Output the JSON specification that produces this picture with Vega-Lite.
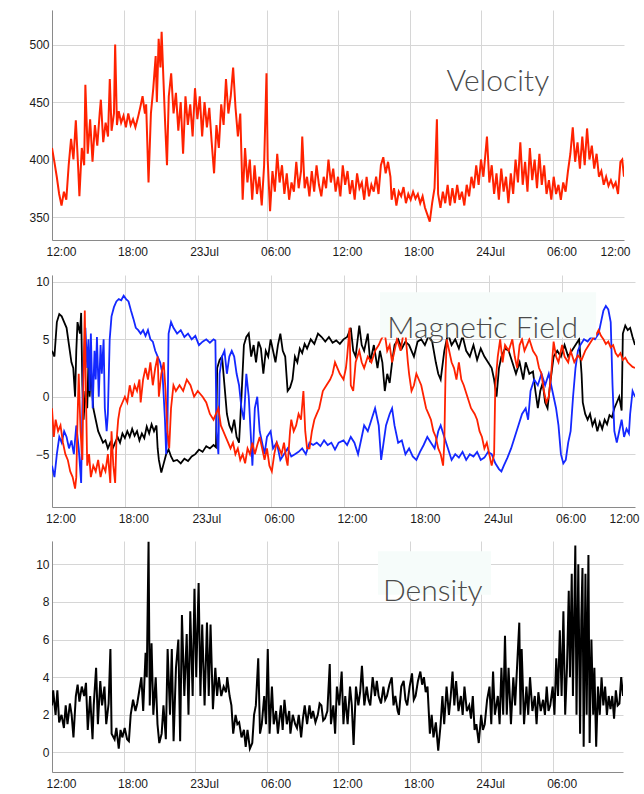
{
  "$schema": "https://vega.github.io/schema/vega-lite/v6.json",
  "background": "white",
  "padding": {"left": 0, "top": 10, "right": 0, "bottom": 0},
  "columns": 1,
  "spacing": 14,
  "datasets": {
    "vel": [{"h":0,"v":410},{"h":0.2,"v":398},{"h":0.4,"v":385},{"h":0.6,"v":370},{"h":0.8,"v":360},{"h":1,"v":372},{"h":1.2,"v":365},{"h":1.4,"v":395},{"h":1.6,"v":418},{"h":1.8,"v":400},{"h":2,"v":434},{"h":2.2,"v":392},{"h":2.3,"v":368},{"h":2.5,"v":410},{"h":2.7,"v":395},{"h":2.8,"v":465},{"h":3,"v":405},{"h":3.2,"v":435},{"h":3.4,"v":398},{"h":3.6,"v":430},{"h":3.8,"v":412},{"h":4,"v":440},{"h":4.1,"v":452},{"h":4.3,"v":415},{"h":4.5,"v":432},{"h":4.7,"v":420},{"h":4.85,"v":470},{"h":5,"v":425},{"h":5.2,"v":440},{"h":5.3,"v":500},{"h":5.45,"v":430},{"h":5.6,"v":442},{"h":5.8,"v":432},{"h":6,"v":438},{"h":6.2,"v":428},{"h":6.4,"v":440},{"h":6.6,"v":430},{"h":6.8,"v":435},{"h":7,"v":428},{"h":7.2,"v":436},{"h":7.4,"v":445},{"h":7.6,"v":455},{"h":7.8,"v":440},{"h":7.9,"v":448},{"h":8.1,"v":380},{"h":8.3,"v":440},{"h":8.5,"v":462},{"h":8.7,"v":490},{"h":8.8,"v":450},{"h":8.95,"v":505},{"h":9.1,"v":480},{"h":9.2,"v":511},{"h":9.35,"v":470},{"h":9.5,"v":430},{"h":9.65,"v":395},{"h":9.8,"v":455},{"h":10,"v":475},{"h":10.2,"v":440},{"h":10.4,"v":458},{"h":10.6,"v":425},{"h":10.8,"v":450},{"h":11,"v":405},{"h":11.2,"v":455},{"h":11.4,"v":430},{"h":11.6,"v":448},{"h":11.8,"v":420},{"h":12,"v":462},{"h":12.2,"v":435},{"h":12.4,"v":455},{"h":12.6,"v":420},{"h":12.8,"v":450},{"h":13,"v":428},{"h":13.2,"v":445},{"h":13.4,"v":415},{"h":13.6,"v":388},{"h":13.8,"v":430},{"h":14,"v":410},{"h":14.2,"v":448},{"h":14.4,"v":430},{"h":14.6,"v":470},{"h":14.8,"v":440},{"h":15,"v":455},{"h":15.2,"v":480},{"h":15.4,"v":445},{"h":15.6,"v":420},{"h":15.8,"v":440},{"h":16,"v":365},{"h":16.2,"v":410},{"h":16.4,"v":380},{"h":16.6,"v":400},{"h":16.8,"v":365},{"h":17,"v":395},{"h":17.2,"v":370},{"h":17.4,"v":385},{"h":17.6,"v":360},{"h":17.8,"v":395},{"h":18,"v":475},{"h":18.1,"v":400},{"h":18.3,"v":355},{"h":18.5,"v":390},{"h":18.7,"v":372},{"h":18.9,"v":405},{"h":19.1,"v":380},{"h":19.3,"v":395},{"h":19.5,"v":370},{"h":19.7,"v":388},{"h":19.9,"v":365},{"h":20.1,"v":380},{"h":20.3,"v":372},{"h":20.5,"v":398},{"h":20.7,"v":375},{"h":20.9,"v":390},{"h":21,"v":420},{"h":21.2,"v":375},{"h":21.4,"v":385},{"h":21.6,"v":368},{"h":21.8,"v":390},{"h":22,"v":372},{"h":22.2,"v":395},{"h":22.4,"v":378},{"h":22.6,"v":368},{"h":22.8,"v":385},{"h":23,"v":375},{"h":23.2,"v":400},{"h":23.4,"v":380},{"h":23.6,"v":392},{"h":23.8,"v":372},{"h":24,"v":385},{"h":24.2,"v":368},{"h":24.4,"v":395},{"h":24.6,"v":378},{"h":24.8,"v":390},{"h":25,"v":370},{"h":25.2,"v":382},{"h":25.4,"v":365},{"h":25.6,"v":388},{"h":25.8,"v":375},{"h":26,"v":380},{"h":26.2,"v":365},{"h":26.4,"v":385},{"h":26.6,"v":368},{"h":26.8,"v":378},{"h":27,"v":372},{"h":27.2,"v":385},{"h":27.4,"v":370},{"h":27.6,"v":395},{"h":27.8,"v":402},{"h":28,"v":388},{"h":28.2,"v":398},{"h":28.4,"v":385},{"h":28.5,"v":365},{"h":28.7,"v":375},{"h":28.9,"v":360},{"h":29.1,"v":372},{"h":29.3,"v":368},{"h":29.5,"v":376},{"h":29.7,"v":362},{"h":29.9,"v":370},{"h":30.1,"v":365},{"h":30.3,"v":372},{"h":30.5,"v":366},{"h":30.7,"v":370},{"h":30.9,"v":362},{"h":31.1,"v":368},{"h":31.3,"v":358},{"h":31.5,"v":352},{"h":31.7,"v":346},{"h":31.9,"v":362},{"h":32.1,"v":375},{"h":32.3,"v":435},{"h":32.4,"v":370},{"h":32.6,"v":358},{"h":32.8,"v":372},{"h":33,"v":362},{"h":33.2,"v":378},{"h":33.4,"v":360},{"h":33.6,"v":375},{"h":33.8,"v":362},{"h":34,"v":378},{"h":34.2,"v":365},{"h":34.4,"v":372},{"h":34.6,"v":360},{"h":34.8,"v":378},{"h":35,"v":368},{"h":35.2,"v":385},{"h":35.4,"v":375},{"h":35.6,"v":395},{"h":35.8,"v":378},{"h":36,"v":400},{"h":36.2,"v":385},{"h":36.5,"v":420},{"h":36.7,"v":380},{"h":36.9,"v":395},{"h":37.1,"v":370},{"h":37.3,"v":388},{"h":37.5,"v":365},{"h":37.7,"v":392},{"h":37.9,"v":372},{"h":38.1,"v":385},{"h":38.3,"v":362},{"h":38.5,"v":388},{"h":38.7,"v":370},{"h":38.9,"v":400},{"h":39.1,"v":380},{"h":39.3,"v":415},{"h":39.5,"v":378},{"h":39.7,"v":398},{"h":39.9,"v":372},{"h":40.1,"v":410},{"h":40.3,"v":382},{"h":40.5,"v":400},{"h":40.7,"v":375},{"h":40.9,"v":405},{"h":41.1,"v":378},{"h":41.3,"v":395},{"h":41.5,"v":370},{"h":41.7,"v":382},{"h":41.9,"v":365},{"h":42.1,"v":385},{"h":42.3,"v":370},{"h":42.5,"v":378},{"h":42.7,"v":365},{"h":42.9,"v":380},{"h":43.1,"v":372},{"h":43.3,"v":390},{"h":43.5,"v":405},{"h":43.7,"v":428},{"h":43.9,"v":398},{"h":44.1,"v":415},{"h":44.3,"v":392},{"h":44.5,"v":420},{"h":44.7,"v":395},{"h":44.9,"v":427},{"h":45.1,"v":400},{"h":45.3,"v":412},{"h":45.5,"v":392},{"h":45.7,"v":405},{"h":45.9,"v":385},{"h":46.1,"v":390},{"h":46.3,"v":378},{"h":46.5,"v":385},{"h":46.7,"v":377},{"h":46.9,"v":382},{"h":47.1,"v":376},{"h":47.3,"v":380},{"h":47.5,"v":370},{"h":47.7,"v":398},{"h":47.85,"v":400},{"h":48,"v":385}],
    "bk": [{"h":0,"b":4},{"h":0.2,"b":3.5},{"h":0.4,"b":6.5},{"h":0.6,"b":7.2},{"h":0.8,"b":7},{"h":1,"b":6.5},{"h":1.2,"b":6},{"h":1.4,"b":4.5},{"h":1.6,"b":3},{"h":1.75,"b":2.5},{"h":1.9,"b":0},{"h":2,"b":4},{"h":2.1,"b":6.5},{"h":2.3,"b":5.5},{"h":2.4,"b":7.3},{"h":2.5,"b":1},{"h":2.6,"b":-2},{"h":2.75,"b":0.5},{"h":2.9,"b":-1},{"h":3,"b":3},{"h":3.1,"b":0},{"h":3.2,"b":2.5},{"h":3.4,"b":-1},{"h":3.6,"b":-2},{"h":3.8,"b":-3},{"h":4,"b":-3.5},{"h":4.2,"b":-4},{"h":4.4,"b":-3.8},{"h":4.6,"b":-4.5},{"h":4.8,"b":-4},{"h":5,"b":-4.5},{"h":5.2,"b":-4},{"h":5.4,"b":-3.5},{"h":5.6,"b":-4},{"h":5.8,"b":-3.2},{"h":6,"b":-3.6},{"h":6.2,"b":-3},{"h":6.4,"b":-3.5},{"h":6.6,"b":-2.8},{"h":6.8,"b":-3.4},{"h":7,"b":-3},{"h":7.2,"b":-3.8},{"h":7.4,"b":-3.2},{"h":7.6,"b":-3.6},{"h":7.8,"b":-2.6},{"h":8,"b":-3.2},{"h":8.2,"b":-2.4},{"h":8.4,"b":-3},{"h":8.6,"b":-2.5},{"h":8.7,"b":-4.5},{"h":8.8,"b":-5.5},{"h":9,"b":-6.6},{"h":9.2,"b":-5.8},{"h":9.4,"b":-5},{"h":9.6,"b":-4.6},{"h":9.8,"b":-5.2},{"h":10,"b":-5.6},{"h":10.3,"b":-5.5},{"h":10.6,"b":-5.8},{"h":10.9,"b":-5.4},{"h":11.2,"b":-5.6},{"h":11.5,"b":-5.2},{"h":11.8,"b":-5},{"h":12.1,"b":-4.6},{"h":12.4,"b":-4.8},{"h":12.7,"b":-4.3},{"h":13,"b":-4.5},{"h":13.3,"b":-4.2},{"h":13.5,"b":-4.4},{"h":13.6,"b":2.5},{"h":13.8,"b":3.2},{"h":14,"b":3.5},{"h":14.2,"b":1},{"h":14.4,"b":-1.5},{"h":14.6,"b":-2.5},{"h":14.8,"b":-3},{"h":15,"b":-2},{"h":15.2,"b":-3.5},{"h":15.4,"b":-4},{"h":15.6,"b":0},{"h":15.8,"b":4.5},{"h":16,"b":5.2},{"h":16.2,"b":5.5},{"h":16.4,"b":3.5},{"h":16.6,"b":4.5},{"h":16.8,"b":3},{"h":17,"b":4.8},{"h":17.2,"b":4.2},{"h":17.4,"b":2},{"h":17.6,"b":4},{"h":17.8,"b":3.5},{"h":18,"b":5},{"h":18.2,"b":4},{"h":18.4,"b":3},{"h":18.6,"b":4.5},{"h":18.8,"b":5.5},{"h":19,"b":4},{"h":19.2,"b":3.5},{"h":19.4,"b":0.5},{"h":19.6,"b":0.8},{"h":19.8,"b":1.5},{"h":20,"b":3.5},{"h":20.2,"b":3},{"h":20.4,"b":4.2},{"h":20.6,"b":3.8},{"h":20.8,"b":4.6},{"h":21,"b":4.2},{"h":21.3,"b":5},{"h":21.6,"b":4.6},{"h":21.9,"b":5.5},{"h":22.2,"b":5.2},{"h":22.5,"b":4.8},{"h":22.8,"b":5.2},{"h":23.1,"b":4.7},{"h":23.4,"b":4.9},{"h":23.7,"b":4.6},{"h":24,"b":5},{"h":24.3,"b":5.2},{"h":24.6,"b":6},{"h":24.8,"b":4},{"h":25,"b":3.5},{"h":25.3,"b":6.2},{"h":25.5,"b":4.5},{"h":25.7,"b":4},{"h":26,"b":5.5},{"h":26.2,"b":3},{"h":26.5,"b":4.5},{"h":26.8,"b":2.5},{"h":27,"b":4},{"h":27.2,"b":3},{"h":27.4,"b":0.5},{"h":27.6,"b":2},{"h":27.8,"b":1.2},{"h":28,"b":3},{"h":28.2,"b":4.5},{"h":28.5,"b":5},{"h":28.8,"b":4.2},{"h":29.1,"b":4.8},{"h":29.4,"b":4.5},{"h":29.8,"b":3.5},{"h":30.1,"b":4.8},{"h":30.4,"b":5},{"h":30.7,"b":4.5},{"h":31,"b":5.3},{"h":31.3,"b":4.8},{"h":31.6,"b":3},{"h":31.8,"b":2},{"h":32,"b":1.5},{"h":32.3,"b":4},{"h":32.6,"b":5.5},{"h":32.9,"b":4.5},{"h":33.2,"b":5},{"h":33.5,"b":4.2},{"h":33.8,"b":5.3},{"h":34.1,"b":4},{"h":34.4,"b":3.5},{"h":34.7,"b":4.5},{"h":35,"b":3.2},{"h":35.3,"b":4.2},{"h":35.6,"b":3.5},{"h":35.9,"b":3},{"h":36.2,"b":2.5},{"h":36.4,"b":1.5},{"h":36.6,"b":0},{"h":36.8,"b":2.5},{"h":37,"b":3.5},{"h":37.3,"b":4.2},{"h":37.6,"b":4},{"h":37.9,"b":3},{"h":38.2,"b":2},{"h":38.5,"b":3},{"h":38.8,"b":1.5},{"h":39,"b":3},{"h":39.3,"b":2},{"h":39.6,"b":2.2},{"h":39.8,"b":0.5},{"h":40,"b":-1},{"h":40.2,"b":0.5},{"h":40.4,"b":1.2},{"h":40.6,"b":-0.5},{"h":40.8,"b":-1},{"h":41,"b":1},{"h":41.3,"b":3.5},{"h":41.6,"b":4},{"h":41.9,"b":3.5},{"h":42.2,"b":4.5},{"h":42.5,"b":3.5},{"h":42.8,"b":4},{"h":43.1,"b":4.5},{"h":43.4,"b":5},{"h":43.6,"b":2},{"h":43.7,"b":-0.5},{"h":43.9,"b":-1.5},{"h":44.1,"b":-2},{"h":44.3,"b":-1.5},{"h":44.5,"b":-2.5},{"h":44.7,"b":-2},{"h":44.9,"b":-3},{"h":45.1,"b":-2.2},{"h":45.3,"b":-2.8},{"h":45.5,"b":-2},{"h":45.7,"b":-2.4},{"h":45.9,"b":-1.6},{"h":46.1,"b":-1.8},{"h":46.3,"b":-1},{"h":46.5,"b":-0.5},{"h":46.7,"b":0},{"h":46.9,"b":-1.2},{"h":47,"b":5.5},{"h":47.2,"b":6.2},{"h":47.4,"b":5.8},{"h":47.6,"b":6},{"h":47.8,"b":5.2},{"h":48,"b":4.5}],
    "bl": [{"h":0,"b":-6},{"h":0.2,"b":-7},{"h":0.4,"b":-5},{"h":0.6,"b":-3.5},{"h":0.8,"b":-4},{"h":1,"b":-3},{"h":1.2,"b":-3.5},{"h":1.4,"b":-4.5},{"h":1.6,"b":-3.8},{"h":1.8,"b":-5},{"h":2,"b":-2.5},{"h":2.2,"b":-4.5},{"h":2.4,"b":-7.5},{"h":2.5,"b":-1},{"h":2.6,"b":3},{"h":2.75,"b":6},{"h":2.9,"b":2.5},{"h":3,"b":5},{"h":3.1,"b":0.5},{"h":3.2,"b":5.5},{"h":3.35,"b":-1},{"h":3.5,"b":4},{"h":3.6,"b":1.5},{"h":3.7,"b":5.2},{"h":3.85,"b":0},{"h":4,"b":4.5},{"h":4.1,"b":2},{"h":4.25,"b":5},{"h":4.35,"b":-1},{"h":4.5,"b":-3},{"h":4.6,"b":-1.5},{"h":4.75,"b":5},{"h":4.9,"b":7},{"h":5.1,"b":7.8},{"h":5.3,"b":8.3},{"h":5.5,"b":8.5},{"h":5.7,"b":8.4},{"h":5.9,"b":8.8},{"h":6.1,"b":8.5},{"h":6.3,"b":8.3},{"h":6.5,"b":7.5},{"h":6.7,"b":6.8},{"h":6.9,"b":6},{"h":7.1,"b":5.8},{"h":7.3,"b":5.5},{"h":7.5,"b":5.8},{"h":7.7,"b":5.3},{"h":7.9,"b":5.8},{"h":8.1,"b":5},{"h":8.3,"b":4.8},{"h":8.5,"b":4},{"h":8.7,"b":3.5},{"h":8.9,"b":3},{"h":9.1,"b":2},{"h":9.3,"b":-2},{"h":9.4,"b":-5},{"h":9.5,"b":-3},{"h":9.6,"b":5.5},{"h":9.8,"b":6.5},{"h":10,"b":6},{"h":10.3,"b":5.5},{"h":10.6,"b":5.8},{"h":10.9,"b":5.2},{"h":11.2,"b":5.5},{"h":11.5,"b":5},{"h":11.8,"b":5.3},{"h":12.1,"b":4.5},{"h":12.4,"b":4.8},{"h":12.7,"b":5},{"h":13,"b":4.7},{"h":13.3,"b":5},{"h":13.45,"b":4.9},{"h":13.55,"b":-3},{"h":13.7,"b":-5},{"h":13.8,"b":2},{"h":14,"b":3.5},{"h":14.2,"b":4},{"h":14.4,"b":2},{"h":14.6,"b":3.5},{"h":14.8,"b":4},{"h":15,"b":3.5},{"h":15.2,"b":2},{"h":15.4,"b":1},{"h":15.6,"b":-1},{"h":15.8,"b":-2},{"h":16,"b":2},{"h":16.2,"b":0},{"h":16.35,"b":-3},{"h":16.5,"b":-6},{"h":16.7,"b":-1},{"h":16.9,"b":0},{"h":17.1,"b":-3},{"h":17.3,"b":-4},{"h":17.5,"b":-5},{"h":17.7,"b":-3.5},{"h":18,"b":-3},{"h":18.2,"b":-4.5},{"h":18.5,"b":-4},{"h":18.8,"b":-5.5},{"h":19.1,"b":-5},{"h":19.4,"b":-4.5},{"h":19.7,"b":-5.2},{"h":20,"b":-5},{"h":20.3,"b":-4.8},{"h":20.6,"b":-4.5},{"h":20.9,"b":-5},{"h":21.2,"b":-4},{"h":21.5,"b":-4.2},{"h":21.8,"b":-4},{"h":22.1,"b":-4.3},{"h":22.4,"b":-3.8},{"h":22.7,"b":-4.2},{"h":23,"b":-4},{"h":23.3,"b":-4.6},{"h":23.6,"b":-4},{"h":24,"b":-3.8},{"h":24.3,"b":-4.2},{"h":24.6,"b":-3.5},{"h":24.9,"b":-4},{"h":25.2,"b":-5},{"h":25.5,"b":-3.5},{"h":25.7,"b":-2.5},{"h":26,"b":-3},{"h":26.3,"b":-2},{"h":26.6,"b":-1},{"h":26.9,"b":-2.5},{"h":27.1,"b":-5.5},{"h":27.3,"b":-4},{"h":27.5,"b":-2.5},{"h":27.8,"b":-1.5},{"h":28,"b":-1},{"h":28.2,"b":-2.5},{"h":28.5,"b":-4},{"h":28.8,"b":-3.8},{"h":29.1,"b":-5},{"h":29.4,"b":-4.5},{"h":29.7,"b":-5.2},{"h":30,"b":-5.5},{"h":30.3,"b":-4.8},{"h":30.6,"b":-4.2},{"h":30.9,"b":-3.5},{"h":31.2,"b":-4},{"h":31.5,"b":-4.5},{"h":31.8,"b":-3},{"h":32,"b":-2.5},{"h":32.3,"b":-3.5},{"h":32.6,"b":-4.5},{"h":32.9,"b":-5.5},{"h":33.2,"b":-5},{"h":33.5,"b":-5.3},{"h":33.8,"b":-4.8},{"h":34.1,"b":-5.5},{"h":34.4,"b":-5},{"h":34.7,"b":-5.2},{"h":35,"b":-4.8},{"h":35.3,"b":-5.5},{"h":35.6,"b":-5.3},{"h":35.9,"b":-4.8},{"h":36.2,"b":-5},{"h":36.5,"b":-5.8},{"h":36.8,"b":-6.3},{"h":37,"b":-6.5},{"h":37.2,"b":-6},{"h":37.5,"b":-5.3},{"h":37.8,"b":-4.5},{"h":38.1,"b":-3.5},{"h":38.4,"b":-2.5},{"h":38.7,"b":-1.5},{"h":39,"b":-1},{"h":39.2,"b":-2},{"h":39.4,"b":0.5},{"h":39.7,"b":1.5},{"h":40,"b":1},{"h":40.3,"b":2},{"h":40.6,"b":1},{"h":40.9,"b":2},{"h":41.2,"b":0.5},{"h":41.5,"b":-1},{"h":41.7,"b":-2.5},{"h":41.9,"b":-5},{"h":42.1,"b":-5.8},{"h":42.3,"b":-5.5},{"h":42.5,"b":-4},{"h":42.7,"b":-3},{"h":42.9,"b":0},{"h":43.1,"b":2.5},{"h":43.3,"b":4},{"h":43.5,"b":4.5},{"h":43.8,"b":5},{"h":44.1,"b":4.8},{"h":44.4,"b":5.2},{"h":44.7,"b":5},{"h":45,"b":5.5},{"h":45.2,"b":6.5},{"h":45.4,"b":7.5},{"h":45.6,"b":7.9},{"h":45.8,"b":7.6},{"h":46,"b":6.5},{"h":46.15,"b":1},{"h":46.3,"b":-3},{"h":46.5,"b":-4},{"h":46.7,"b":-3},{"h":46.9,"b":-2},{"h":47.1,"b":-3.5},{"h":47.3,"b":-2.8},{"h":47.5,"b":-3.2},{"h":47.6,"b":-1.5},{"h":47.8,"b":0.5},{"h":48,"b":0}],
    "rd": [{"h":0,"b":-1},{"h":0.15,"b":-3.5},{"h":0.3,"b":-2},{"h":0.5,"b":-3},{"h":0.7,"b":-2.5},{"h":0.9,"b":-4},{"h":1.1,"b":-5},{"h":1.3,"b":-5.5},{"h":1.5,"b":-6.5},{"h":1.7,"b":-7},{"h":1.9,"b":-8},{"h":2,"b":-7},{"h":2.1,"b":-2},{"h":2.2,"b":2},{"h":2.35,"b":-3},{"h":2.5,"b":-5.5},{"h":2.6,"b":2},{"h":2.7,"b":7.5},{"h":2.8,"b":0},{"h":2.9,"b":-6},{"h":3.05,"b":-5},{"h":3.2,"b":-7},{"h":3.4,"b":-6},{"h":3.6,"b":-6.5},{"h":3.8,"b":-5.5},{"h":4,"b":-7},{"h":4.2,"b":-6},{"h":4.4,"b":-6.5},{"h":4.6,"b":-5},{"h":4.8,"b":-7.5},{"h":4.9,"b":-3},{"h":5.05,"b":-6},{"h":5.2,"b":-7.5},{"h":5.3,"b":-4},{"h":5.45,"b":-2},{"h":5.6,"b":-1},{"h":5.8,"b":-0.5},{"h":6,"b":0},{"h":6.2,"b":-0.5},{"h":6.4,"b":1},{"h":6.6,"b":0},{"h":6.8,"b":1},{"h":7,"b":0.5},{"h":7.2,"b":1.5},{"h":7.3,"b":-0.5},{"h":7.5,"b":1.5},{"h":7.7,"b":2.5},{"h":7.9,"b":1.5},{"h":8.1,"b":3},{"h":8.3,"b":1},{"h":8.5,"b":2.5},{"h":8.7,"b":3.5},{"h":8.8,"b":0},{"h":9,"b":2},{"h":9.2,"b":3},{"h":9.35,"b":0.5},{"h":9.5,"b":-3},{"h":9.65,"b":-4.5},{"h":9.8,"b":-1},{"h":10,"b":1},{"h":10.2,"b":0.5},{"h":10.5,"b":1},{"h":10.8,"b":0.5},{"h":11.1,"b":1.5},{"h":11.4,"b":1},{"h":11.7,"b":0},{"h":12,"b":0.5},{"h":12.4,"b":0},{"h":12.7,"b":-0.5},{"h":13,"b":-1.5},{"h":13.3,"b":-2},{"h":13.5,"b":-1.5},{"h":13.7,"b":-1},{"h":13.9,"b":-2.5},{"h":14.1,"b":-3},{"h":14.3,"b":-3.5},{"h":14.5,"b":-4},{"h":14.7,"b":-4.5},{"h":14.9,"b":-4},{"h":15.1,"b":-5},{"h":15.3,"b":-4.5},{"h":15.5,"b":-5.5},{"h":15.7,"b":-5},{"h":15.9,"b":-5.8},{"h":16.1,"b":-4.5},{"h":16.3,"b":-5},{"h":16.5,"b":-4},{"h":16.7,"b":-5},{"h":16.9,"b":-4.2},{"h":17.1,"b":-3.5},{"h":17.3,"b":-4.5},{"h":17.5,"b":-5.5},{"h":17.7,"b":-4.5},{"h":17.9,"b":-6},{"h":18.1,"b":-6.5},{"h":18.3,"b":-5},{"h":18.5,"b":-4},{"h":18.7,"b":-4.5},{"h":18.9,"b":-5},{"h":19.1,"b":-4},{"h":19.3,"b":-5.5},{"h":19.4,"b":-6},{"h":19.6,"b":-3},{"h":19.7,"b":-2},{"h":19.9,"b":-3},{"h":20.1,"b":-2.5},{"h":20.3,"b":-1.5},{"h":20.5,"b":-2},{"h":20.7,"b":0.5},{"h":20.85,"b":-3},{"h":21,"b":-4.5},{"h":21.2,"b":-4.5},{"h":21.4,"b":-3},{"h":21.6,"b":-2},{"h":21.8,"b":-1.5},{"h":22,"b":-1},{"h":22.3,"b":0.5},{"h":22.6,"b":1},{"h":22.9,"b":1.5},{"h":23.1,"b":2},{"h":23.3,"b":3},{"h":23.5,"b":2.5},{"h":23.7,"b":2},{"h":24,"b":1.5},{"h":24.2,"b":2.5},{"h":24.3,"b":3.5},{"h":24.5,"b":6},{"h":24.6,"b":1},{"h":24.8,"b":0.5},{"h":25,"b":3},{"h":25.3,"b":4},{"h":25.5,"b":3},{"h":25.7,"b":2.5},{"h":26,"b":3.5},{"h":26.3,"b":3},{"h":26.6,"b":4},{"h":26.9,"b":4.5},{"h":27.1,"b":5},{"h":27.4,"b":5.5},{"h":27.6,"b":4},{"h":27.8,"b":4.5},{"h":28,"b":3},{"h":28.2,"b":4},{"h":28.4,"b":5},{"h":28.7,"b":4},{"h":28.9,"b":5.3},{"h":29.1,"b":5.5},{"h":29.3,"b":3},{"h":29.4,"b":2},{"h":29.6,"b":0.5},{"h":29.8,"b":1},{"h":30,"b":2},{"h":30.2,"b":1.5},{"h":30.4,"b":1},{"h":30.6,"b":0},{"h":30.8,"b":-1},{"h":31,"b":-1.5},{"h":31.2,"b":-2},{"h":31.4,"b":-3},{"h":31.6,"b":-3.5},{"h":31.8,"b":-4.5},{"h":32,"b":-5},{"h":32.2,"b":-6},{"h":32.3,"b":-4},{"h":32.4,"b":2},{"h":32.5,"b":5},{"h":32.7,"b":4},{"h":32.9,"b":3},{"h":33.1,"b":2.5},{"h":33.3,"b":1.5},{"h":33.5,"b":3},{"h":33.7,"b":1.5},{"h":33.9,"b":1},{"h":34.2,"b":0},{"h":34.5,"b":-1},{"h":34.8,"b":-1.5},{"h":35,"b":-2},{"h":35.2,"b":-3},{"h":35.4,"b":-3.5},{"h":35.6,"b":-4.5},{"h":35.8,"b":-4},{"h":36,"b":-5},{"h":36.2,"b":-6},{"h":36.4,"b":-5},{"h":36.5,"b":1},{"h":36.7,"b":3.5},{"h":36.9,"b":5},{"h":37.1,"b":3},{"h":37.3,"b":4.5},{"h":37.6,"b":4},{"h":37.9,"b":5},{"h":38.1,"b":3.5},{"h":38.3,"b":2.5},{"h":38.5,"b":4.5},{"h":38.7,"b":5},{"h":38.9,"b":4},{"h":39.1,"b":4.5},{"h":39.3,"b":5},{"h":39.6,"b":4},{"h":39.9,"b":3.5},{"h":40.1,"b":2.5},{"h":40.3,"b":2},{"h":40.5,"b":0.5},{"h":40.7,"b":-0.5},{"h":40.9,"b":0},{"h":41.1,"b":2},{"h":41.3,"b":4.8},{"h":41.5,"b":3.5},{"h":41.7,"b":3},{"h":42,"b":4.5},{"h":42.2,"b":3.5},{"h":42.5,"b":3},{"h":42.7,"b":4},{"h":43,"b":3},{"h":43.3,"b":3.6},{"h":43.6,"b":3.2},{"h":43.9,"b":4},{"h":44.2,"b":4.5},{"h":44.5,"b":5},{"h":44.8,"b":5.4},{"h":45,"b":5.8},{"h":45.2,"b":5.3},{"h":45.4,"b":5},{"h":45.6,"b":4.6},{"h":45.8,"b":4.8},{"h":46,"b":4.3},{"h":46.2,"b":4.5},{"h":46.4,"b":3.8},{"h":46.6,"b":3.5},{"h":46.8,"b":3.8},{"h":47,"b":3.2},{"h":47.2,"b":3.4},{"h":47.4,"b":3},{"h":47.6,"b":2.8},{"h":47.8,"b":2.6},{"h":48,"b":2.5}],
    "den": [{"h":0,"n":2.5},{"h":0.1,"n":3.3},{"h":0.3,"n":2},{"h":0.45,"n":3.3},{"h":0.6,"n":1.6},{"h":0.8,"n":2},{"h":1,"n":1.3},{"h":1.15,"n":2.5},{"h":1.3,"n":1.5},{"h":1.5,"n":2.6},{"h":1.65,"n":2},{"h":1.8,"n":0.8},{"h":2,"n":3},{"h":2.15,"n":3.6},{"h":2.3,"n":2.7},{"h":2.5,"n":3.5},{"h":2.7,"n":3},{"h":2.85,"n":3.7},{"h":3,"n":1.2},{"h":3.2,"n":3},{"h":3.4,"n":0.7},{"h":3.5,"n":2.5},{"h":3.7,"n":4.5},{"h":3.85,"n":1.5},{"h":4.05,"n":3.8},{"h":4.2,"n":2.5},{"h":4.4,"n":3.5},{"h":4.55,"n":1.5},{"h":4.75,"n":2.6},{"h":4.9,"n":5.5},{"h":5,"n":1},{"h":5.25,"n":0.7},{"h":5.4,"n":1.3},{"h":5.6,"n":0.2},{"h":5.75,"n":1.2},{"h":5.9,"n":0.8},{"h":6.1,"n":1.3},{"h":6.3,"n":0.7},{"h":6.45,"n":0.6},{"h":6.6,"n":2},{"h":6.8,"n":2.8},{"h":7,"n":2.2},{"h":7.15,"n":2.6},{"h":7.3,"n":3.2},{"h":7.5,"n":4},{"h":7.65,"n":2.2},{"h":7.85,"n":5.3},{"h":7.95,"n":4},{"h":8.1,"n":11.2},{"h":8.2,"n":2.5},{"h":8.35,"n":5.8},{"h":8.5,"n":2},{"h":8.7,"n":4},{"h":8.85,"n":1.5},{"h":9,"n":0.5},{"h":9.2,"n":1},{"h":9.35,"n":2.5},{"h":9.55,"n":0.7},{"h":9.7,"n":5.5},{"h":9.9,"n":2},{"h":10.05,"n":5.5},{"h":10.2,"n":0.6},{"h":10.4,"n":4.5},{"h":10.6,"n":6},{"h":10.75,"n":0.6},{"h":10.9,"n":7.3},{"h":11.1,"n":3},{"h":11.3,"n":6.3},{"h":11.45,"n":2},{"h":11.6,"n":7.5},{"h":11.8,"n":3},{"h":11.95,"n":8.7},{"h":12.1,"n":4},{"h":12.3,"n":9},{"h":12.45,"n":3},{"h":12.6,"n":6.8},{"h":12.8,"n":2.5},{"h":13,"n":6.9},{"h":13.15,"n":3},{"h":13.3,"n":6.8},{"h":13.5,"n":2.3},{"h":13.7,"n":4.5},{"h":13.85,"n":3},{"h":14,"n":4},{"h":14.2,"n":3},{"h":14.4,"n":3.5},{"h":14.6,"n":3.2},{"h":14.7,"n":4},{"h":14.9,"n":3},{"h":15.05,"n":2.5},{"h":15.2,"n":1},{"h":15.4,"n":2},{"h":15.55,"n":1.5},{"h":15.7,"n":1.6},{"h":15.9,"n":0.8},{"h":16.1,"n":1.2},{"h":16.25,"n":0.3},{"h":16.4,"n":1.2},{"h":16.6,"n":0.2},{"h":16.8,"n":0.5},{"h":16.95,"n":2},{"h":17.1,"n":2.5},{"h":17.3,"n":5},{"h":17.45,"n":1},{"h":17.6,"n":1.5},{"h":17.8,"n":3},{"h":17.95,"n":1.5},{"h":18.1,"n":5.5},{"h":18.25,"n":1},{"h":18.45,"n":3.5},{"h":18.6,"n":1.5},{"h":18.8,"n":2.2},{"h":18.95,"n":1},{"h":19.2,"n":2.5},{"h":19.35,"n":1.2},{"h":19.5,"n":2.8},{"h":19.7,"n":1.5},{"h":19.9,"n":2.2},{"h":20,"n":1},{"h":20.2,"n":2},{"h":20.4,"n":1.5},{"h":20.55,"n":1.3},{"h":20.7,"n":2},{"h":20.9,"n":0.8},{"h":21.05,"n":1.8},{"h":21.2,"n":2.5},{"h":21.4,"n":1.5},{"h":21.6,"n":2.5},{"h":21.75,"n":1.8},{"h":21.9,"n":2.2},{"h":22.1,"n":1.6},{"h":22.3,"n":2},{"h":22.45,"n":2.6},{"h":22.6,"n":2.5},{"h":22.75,"n":1.7},{"h":22.9,"n":1.8},{"h":23.1,"n":2.2},{"h":23.3,"n":4.7},{"h":23.4,"n":1.5},{"h":23.6,"n":2.5},{"h":23.75,"n":1},{"h":23.9,"n":3.5},{"h":24.1,"n":2.5},{"h":24.3,"n":4.3},{"h":24.45,"n":1.5},{"h":24.6,"n":3},{"h":24.8,"n":1.5},{"h":25,"n":3.5},{"h":25.15,"n":2.5},{"h":25.3,"n":0.4},{"h":25.5,"n":3.5},{"h":25.7,"n":2.5},{"h":25.85,"n":3.2},{"h":26,"n":4.6},{"h":26.2,"n":2.5},{"h":26.4,"n":3.5},{"h":26.55,"n":2.8},{"h":26.7,"n":2.5},{"h":26.9,"n":4},{"h":27.1,"n":3},{"h":27.25,"n":3.8},{"h":27.4,"n":3},{"h":27.6,"n":2.6},{"h":27.8,"n":3.5},{"h":27.95,"n":2.8},{"h":28.1,"n":3},{"h":28.3,"n":3.6},{"h":28.5,"n":4},{"h":28.65,"n":2.5},{"h":28.8,"n":3},{"h":29,"n":2.2},{"h":29.1,"n":2},{"h":29.3,"n":3.5},{"h":29.5,"n":3.8},{"h":29.65,"n":2.8},{"h":29.8,"n":2.5},{"h":30,"n":3.5},{"h":30.2,"n":4.2},{"h":30.35,"n":2.8},{"h":30.5,"n":3},{"h":30.7,"n":3.8},{"h":30.9,"n":4.3},{"h":31.05,"n":3.6},{"h":31.2,"n":4},{"h":31.35,"n":3.2},{"h":31.5,"n":3.5},{"h":31.7,"n":1},{"h":31.85,"n":2},{"h":32,"n":0.8},{"h":32.2,"n":1.6},{"h":32.4,"n":0.1},{"h":32.6,"n":1.5},{"h":32.75,"n":3},{"h":32.9,"n":1.5},{"h":33.1,"n":3.5},{"h":33.3,"n":2},{"h":33.45,"n":3},{"h":33.6,"n":4.3},{"h":33.75,"n":2.5},{"h":33.9,"n":3.8},{"h":34.1,"n":2.2},{"h":34.3,"n":3},{"h":34.45,"n":2},{"h":34.6,"n":3.5},{"h":34.8,"n":2.2},{"h":35,"n":2.5},{"h":35.15,"n":1.8},{"h":35.3,"n":3},{"h":35.45,"n":1.2},{"h":35.6,"n":1.5},{"h":35.8,"n":0.5},{"h":36,"n":2},{"h":36.15,"n":1.2},{"h":36.3,"n":1.5},{"h":36.5,"n":2.8},{"h":36.7,"n":3.5},{"h":36.85,"n":1.5},{"h":37,"n":4.3},{"h":37.15,"n":2},{"h":37.4,"n":3},{"h":37.55,"n":1.5},{"h":37.7,"n":4.5},{"h":37.85,"n":2},{"h":38,"n":6.2},{"h":38.15,"n":2},{"h":38.3,"n":4.5},{"h":38.5,"n":1.5},{"h":38.7,"n":4},{"h":38.85,"n":2.5},{"h":39.2,"n":6.9},{"h":39.3,"n":2},{"h":39.4,"n":5.5},{"h":39.6,"n":1.5},{"h":39.8,"n":3.5},{"h":39.95,"n":2},{"h":40.1,"n":4},{"h":40.3,"n":2.2},{"h":40.5,"n":3},{"h":40.65,"n":1.5},{"h":40.8,"n":3.2},{"h":41,"n":2.2},{"h":41.2,"n":2.8},{"h":41.35,"n":2},{"h":41.5,"n":3.5},{"h":41.65,"n":2.2},{"h":41.8,"n":2.5},{"h":42,"n":3.5},{"h":42.15,"n":2},{"h":42.3,"n":5},{"h":42.45,"n":3},{"h":42.6,"n":6.5},{"h":42.75,"n":3},{"h":42.9,"n":7.5},{"h":43.05,"n":2},{"h":43.2,"n":4.5},{"h":43.35,"n":8.6},{"h":43.45,"n":4},{"h":43.6,"n":9.5},{"h":43.7,"n":3},{"h":43.9,"n":11},{"h":44,"n":2},{"h":44.15,"n":10},{"h":44.3,"n":1},{"h":44.4,"n":7},{"h":44.5,"n":9.8},{"h":44.6,"n":0.3},{"h":44.75,"n":9.5},{"h":44.85,"n":2},{"h":45,"n":10.5},{"h":45.1,"n":0.5},{"h":45.25,"n":6},{"h":45.4,"n":2},{"h":45.5,"n":4.5},{"h":45.65,"n":0.3},{"h":45.8,"n":3.5},{"h":45.95,"n":2},{"h":46.1,"n":4},{"h":46.25,"n":2.5},{"h":46.4,"n":3.5},{"h":46.55,"n":2},{"h":46.7,"n":3},{"h":46.85,"n":2.3},{"h":47,"n":3},{"h":47.15,"n":1.8},{"h":47.3,"n":3.3},{"h":47.45,"n":2.5},{"h":47.6,"n":2.6},{"h":47.75,"n":4},{"h":47.9,"n":3}]
  },
  "concat": [
    {
      "width": 572,
      "height": 230,
      "layer": [
        {
          "data": {"name": "vel"},
          "mark": {"type": "line", "color": "#ff2200", "strokeWidth": 2, "clip": true},
          "encoding": {
            "x": {"field": "h", "type": "quantitative", "scale": {"domain": [0, 48], "nice": false, "zero": false},
              "axis": {"title": null, "values": [0,6,12,18,24,30,36,42,48], "labelExpr": "['12:00','18:00','23Jul','06:00','12:00','18:00','24Jul','06:00','12:00'][round(datum.value/6)]", "labelFlush": false, "labelOverlap": false, "labelOffset": {"condition": {"test": "datum.value >= 48", "value": -9}, "value": 9}, "gridOpacity": {"condition": {"test": "datum.value >= 48", "value": 0}, "value": 1}, "labelPadding": 6, "minExtent": 21, "maxExtent": 21}},
            "y": {"field": "v", "type": "quantitative", "scale": {"domain": [330, 530], "nice": false, "zero": false},
              "axis": {"title": null, "values": [350, 400, 450, 500], "minExtent": 52, "maxExtent": 52}}
          }
        },
        {
          "data": {"values": [{}]},
          "mark": {"type": "text", "text": "Velocity", "font": "Lato", "fontWeight": 300, "fontSize": 30, "color": "#4a4a4a", "align": "left", "baseline": "alphabetic"},
          "encoding": {
            "x": {"datum": 33.1, "type": "quantitative"},
            "y": {"datum": 459.6, "type": "quantitative"}
          }
        }
      ]
    },
    {
      "width": 583,
      "height": 232,
      "layer": [
        {
          "data": {"name": "bk"},
          "mark": {"type": "line", "color": "#000000", "strokeWidth": 1.8, "clip": true},
          "encoding": {
            "x": {"field": "h", "type": "quantitative", "scale": {"domain": [0, 48], "nice": false, "zero": false},
              "axis": {"title": null, "values": [0,6,12,18,24,30,36,42,48], "labelExpr": "['12:00','18:00','23Jul','06:00','12:00','18:00','24Jul','06:00','12:00'][round(datum.value/6)]", "labelFlush": false, "labelOverlap": false, "labelOffset": {"condition": {"test": "datum.value >= 48", "value": -11}, "value": 8.5}, "gridOpacity": {"condition": {"test": "datum.value >= 48", "value": 0}, "value": 1}, "labelPadding": 6, "minExtent": 20, "maxExtent": 20}},
            "y": {"field": "b", "type": "quantitative", "scale": {"domain": [-9.6, 10.6], "nice": false, "zero": false},
              "axis": {"title": null, "values": [-5, 0, 5, 10], "minExtent": 52, "maxExtent": 52}}
          }
        },
        {
          "data": {"name": "bl"},
          "mark": {"type": "line", "color": "#1428ff", "strokeWidth": 1.8, "clip": true},
          "encoding": {
            "x": {"field": "h", "type": "quantitative"},
            "y": {"field": "b", "type": "quantitative"}
          }
        },
        {
          "data": {"name": "rd"},
          "mark": {"type": "line", "color": "#ff2200", "strokeWidth": 1.8, "clip": true},
          "encoding": {
            "x": {"field": "h", "type": "quantitative"},
            "y": {"field": "b", "type": "quantitative"}
          }
        },
        {
          "data": {"values": [{}]},
          "mark": {"type": "rect", "color": "#f6fcfa"},
          "encoding": {
            "x": {"datum": 27.0, "type": "quantitative"},
            "x2": {"datum": 44.8},
            "y": {"datum": 9.1, "type": "quantitative"},
            "y2": {"datum": 5.15}
          }
        },
        {
          "data": {"values": [{}]},
          "mark": {"type": "text", "text": "Magnetic Field", "font": "Lato", "fontWeight": 300, "fontSize": 30, "color": "#4a4a4a", "align": "left", "baseline": "alphabetic"},
          "encoding": {
            "x": {"datum": 27.6, "type": "quantitative"},
            "y": {"datum": 5.15, "type": "quantitative"}
          }
        }
      ]
    },
    {
      "width": 571,
      "height": 231,
      "layer": [
        {
          "data": {"name": "den"},
          "mark": {"type": "line", "color": "#000000", "strokeWidth": 2, "clip": true},
          "encoding": {
            "x": {"field": "h", "type": "quantitative", "scale": {"domain": [0, 47.9], "nice": false, "zero": false},
              "axis": {"title": null, "values": [0,6,12,18,24,30,36,42], "labelExpr": "['12:00','18:00','23Jul','06:00','12:00','18:00','24Jul','06:00','12:00'][round(datum.value/6)]", "labelFlush": false, "labelOverlap": false, "labelOffset": 9, "labelPadding": 6, "minExtent": 20, "maxExtent": 20}},
            "y": {"field": "n", "type": "quantitative", "scale": {"domain": [-1.04, 11.24], "nice": false, "zero": false},
              "axis": {"title": null, "values": [0, 2, 4, 6, 8, 10], "minExtent": 52, "maxExtent": 52}}
          }
        },
        {
          "data": {"values": [{}]},
          "mark": {"type": "rect", "color": "#f6fcfa"},
          "encoding": {
            "x": {"datum": 27.35, "type": "quantitative"},
            "x2": {"datum": 36.83},
            "y": {"datum": 10.7, "type": "quantitative"},
            "y2": {"datum": 8.38}
          }
        },
        {
          "data": {"values": [{}]},
          "mark": {"type": "text", "text": "Density", "font": "Lato", "fontWeight": 300, "fontSize": 30, "color": "#4a4a4a", "align": "left", "baseline": "alphabetic"},
          "encoding": {
            "x": {"datum": 27.77, "type": "quantitative"},
            "y": {"datum": 8.06, "type": "quantitative"}
          }
        }
      ]
    }
  ],
  "config": {
    "view": {"stroke": null},
    "axis": {
      "gridColor": "#d6d6d6",
      "gridWidth": 1,
      "domainColor": "#8a8a8a",
      "domainWidth": 1,
      "ticks": false,
      "labelFont": "Liberation Sans",
      "labelFontSize": 12,
      "labelColor": "#1a1a1a",
      "labelPadding": 3
    }
  }
}
